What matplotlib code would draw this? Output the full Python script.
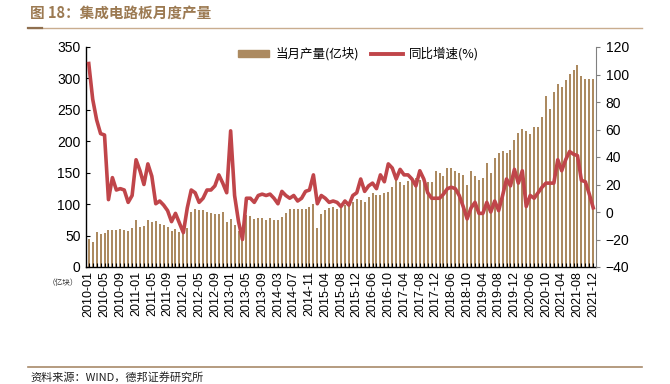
import matplotlib
matplotlib.use("Agg")
import matplotlib.pyplot as plt
from matplotlib.lines import Line2D

plt.rcParams['font.family'] = ['Liberation Sans', 'Noto Sans CJK SC', 'DejaVu Sans']

months = [
    "2010-01", "2010-02", "2010-03", "2010-04", "2010-05", "2010-06", "2010-07", "2010-08", "2010-09", "2010-10", "2010-11", "2010-12",
    "2011-01", "2011-02", "2011-03", "2011-04", "2011-05", "2011-06", "2011-07", "2011-08", "2011-09", "2011-10", "2011-11", "2011-12",
    "2012-01", "2012-02", "2012-03", "2012-04", "2012-05", "2012-06", "2012-07", "2012-08", "2012-09", "2012-10", "2012-11", "2012-12",
    "2013-01", "2013-02", "2013-03", "2013-04", "2013-05", "2013-06", "2013-07", "2013-08", "2013-09", "2013-10", "2013-11", "2013-12",
    "2014-03", "2014-04", "2014-05", "2014-06", "2014-07", "2014-08", "2014-09", "2014-10", "2014-11", "2014-12",
    "2015-02", "2015-03", "2015-04", "2015-05", "2015-06", "2015-07", "2015-08", "2015-09", "2015-10", "2015-11", "2015-12",
    "2016-03", "2016-04", "2016-05", "2016-06", "2016-07", "2016-08", "2016-09", "2016-10", "2016-11", "2016-12",
    "2017-03", "2017-04", "2017-05", "2017-06", "2017-07", "2017-08", "2017-09", "2017-10", "2017-11", "2017-12",
    "2018-03", "2018-04", "2018-05", "2018-06", "2018-07", "2018-08", "2018-09", "2018-10", "2018-11", "2018-12",
    "2019-03", "2019-04", "2019-05", "2019-06", "2019-07", "2019-08", "2019-09", "2019-10", "2019-11", "2019-12",
    "2020-03", "2020-04", "2020-05", "2020-06", "2020-07", "2020-08", "2020-09", "2020-10", "2020-11", "2020-12",
    "2021-03", "2021-04", "2021-05", "2021-06", "2021-07", "2021-08", "2021-09", "2021-10", "2021-11", "2021-12",
]

output = [
    44, 40, 56, 52, 54, 59, 59, 59, 61, 59, 57, 62,
    75, 63, 65, 75, 71, 73, 69, 67, 63, 57, 61, 55,
    57, 62, 88, 93, 90, 90, 88, 86, 84, 84, 88, 72,
    76, 67, 57, 46, 82, 81, 76, 78, 78, 75, 78, 75,
    75, 80, 86, 92, 93, 93, 93, 92, 96, 101,
    62, 85, 90, 94, 96, 93, 96, 99, 101, 103, 108,
    106, 103, 112, 117, 114, 114, 117, 120, 128, 138,
    136, 130, 137, 137, 141, 139, 133, 136, 136, 152,
    149, 145, 157, 157, 152, 149, 146, 130, 153, 144,
    139, 142, 165, 150, 173, 182, 185, 181, 186, 202,
    213, 219, 216, 211, 222, 222, 239, 272, 251, 278,
    291, 286, 297, 307, 314, 321, 304, 299, 299, 299,
]

yoy = [
    108, 82, 67, 57, 56, 9, 25, 16, 17, 16, 7, 12,
    38, 30, 20, 35, 26, 6, 8, 5, 1, -7, -1, -8,
    -15, 3, 16, 14, 7, 10, 16, 16, 19, 27, 21, 14,
    59, 12, -7, -20, 10, 10, 7, 12, 13, 12, 13, 10,
    6, 15, 12, 10, 12, 8, 10, 15, 16, 27,
    6, 12, 10, 7, 8, 7, 4, 8, 5, 12, 14,
    24, 15, 19, 21, 17, 27, 22, 35, 32, 24,
    31, 27, 27, 24, 19, 30, 24, 14, 10, 10,
    10, 13, 17, 18, 17, 12, 4, -5, 3, 7,
    -1, -1, 7, 0, 8, 1, 12, 24, 19, 31,
    21, 30, 4, 12, 10, 14, 18, 21, 21, 21,
    38, 30, 38, 44, 42, 41, 23, 22, 13, 3,
]

left_ticks = [0, 50, 100, 150, 200, 250, 300, 350]
right_ticks = [-40, -20, 0, 20, 40, 60, 80, 100, 120]

bar_color = "#ac8a60"
line_color = "#c0454a"
title_color = "#9c7a52"

fig = plt.figure(figsize=(6.70, 3.84), dpi=100)
ax = fig.add_axes([86 / 670, 1 - 267 / 384, 510 / 670, 220 / 384])
ax2 = ax.twinx()

x = list(range(len(months)))
ax.bar(x, output, width=0.5, color=bar_color, linewidth=0, label="当月产量(亿块)")
ax2.plot(x, yoy, color=line_color, linewidth=2.6, solid_joinstyle='round', label="同比增速(%)")

ax.set_xlim(-0.7, len(months) - 0.3)
ax.set_ylim(0, 350)
ax2.set_ylim(-40, 120)
ax.set_yticks(left_ticks)
ax2.set_yticks(right_ticks)

tick_idx = list(range(0, len(months), 4))
ax.set_xticks(x, minor=True)
ax.set_xticks(tick_idx)
ax.set_xticklabels([months[i] for i in tick_idx], rotation=90, fontsize=9)
ax.tick_params(axis='x', which='both', direction='in', length=3, width=0.8, pad=3)
ax.tick_params(axis='y', direction='in', length=3, width=0.8, labelsize=10, pad=4)
ax2.tick_params(axis='y', direction='out', length=3, width=0.8, colors='#808080', labelcolor='black', labelsize=10, pad=4)

for a in (ax, ax2):
    a.spines['top'].set_visible(False)
ax.spines['right'].set_visible(False)
ax2.spines['left'].set_visible(False)
ax2.spines['bottom'].set_visible(False)
ax2.spines['right'].set_color('#808080')
ax.spines['left'].set_linewidth(1.0)
ax.spines['bottom'].set_linewidth(1.0)

cjk = ['Noto Sans CJK SC', 'DejaVu Sans']
handles = [plt.Rectangle((0, 0), 1, 1, color=bar_color),
           Line2D([0], [0], color=line_color, linewidth=2.8)]
fig.legend(handles, ["当月产量(亿块)", "同比增速(%)"], loc='center', ncol=2,
           bbox_to_anchor=(0.535, 1 - 54 / 384), frameon=False,
           prop={'family': cjk, 'size': 9}, handlelength=2.5, handleheight=0.45,
           columnspacing=1.0, handletextpad=0.5)

fig.text(30 / 670, 1 - 14 / 384, "图 18：集成电路板月度产量", color=title_color,
         fontsize=10.5, fontweight='bold', family=cjk, va='center', ha='left')
fig.add_artist(Line2D([28 / 670, 642 / 670], [1 - 28 / 384, 1 - 28 / 384], color='#c9ad8f', linewidth=1.0))
fig.add_artist(Line2D([28 / 670, 42 / 670], [1 - 28 / 384, 1 - 28 / 384], color='#8f6f4f', linewidth=1.6))
fig.add_artist(Line2D([28 / 670, 642 / 670], [1 - 367 / 384, 1 - 367 / 384], color='#a88a6a', linewidth=1.2))
fig.text(30 / 670, 1 - 377 / 384, "资料来源：WIND，德邦证券研究所", fontsize=8, family=cjk, va='center', ha='left', color='#222222')
fig.text(48 / 670, 1 - 283 / 384, "（亿块）", fontsize=5.5, family=cjk, va='center', ha='left', color='#333333')

fig.savefig("out.png", dpi=100)
